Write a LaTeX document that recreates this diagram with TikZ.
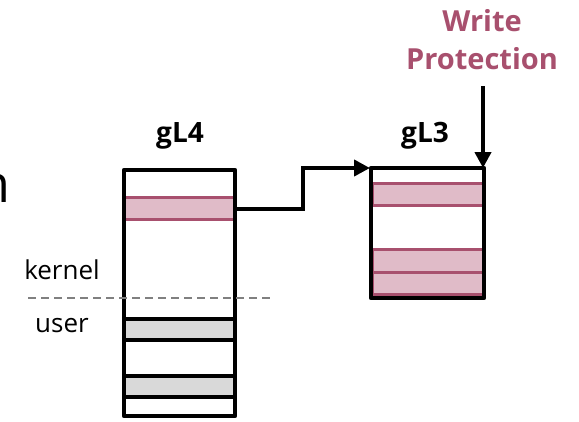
\documentclass[tikz,border=0pt]{standalone}
\usepackage{fontspec}
\setmainfont{Open Sans}
\usetikzlibrary{arrows.meta}
\definecolor{mauve}{HTML}{A8506E}
\definecolor{mauvefill}{HTML}{E0BBC8}
\definecolor{grayfill}{HTML}{D9D9D9}
\tikzset{
  frame/.style={draw=black, line width=4.5pt, line join=round},
  protband/.style={fill=mauvefill, draw=mauve, line width=3pt},
  userband/.style={fill=grayfill, draw=black, line width=4.5pt},
  lbl/.style={font=\fontsize{26}{30}\selectfont, inner sep=0pt},
  title/.style={font=\fontsize{28}{32}\selectfont\bfseries, inner sep=0pt},
  link/.style={line width=4.5pt, -{Triangle[length=16pt,width=16pt]}},
}
\begin{document}
\begin{tikzpicture}[x=1pt,y=-1pt]
\useasboundingbox (0,0) rectangle (579,421);

% cut-off heading letter at the left edge
\node[font=\fontsize{52}{58}\selectfont, anchor=east, inner sep=0pt] (cut) at (11,188) {n};

% gL4 table
\fill[white] (124,170) rectangle (235,416);
\draw[protband] (124,197) rectangle (235,219);
\draw[userband] (124,319) rectangle (235,340);
\draw[userband] (124,376) rectangle (235,397);
\node[frame, minimum width=111pt, minimum height=246pt, inner sep=0pt] (gl4) at (179.5,293) {};
\coordinate (gl4entry) at (235,209);
\node[title] (gl4t) at (180,136) {gL4};

% kernel / user split
\draw[gray, line width=2pt, dash pattern=on 8pt off 5pt] (28,298) -- (272,298);
\node[lbl] (kern) at (62,270) {kernel};
\node[lbl] (usr) at (62,326) {user};

% gL3 table
\draw[protband] (372,183) rectangle (483,205);
\draw[protband] (372,249) rectangle (483,272);
\draw[protband] (372,272) rectangle (483,294);
\node[frame, minimum width=113pt, minimum height=130pt, inner sep=0pt] (gl3) at (427.5,233) {};
\coordinate (gl3in) at (370,168);
\coordinate (gl3top) at (483,168);
\node[title] (gl3t) at (425,136) {gL3};

% pointer from gL4 entry to gL3
\draw[link] (gl4entry) -- (303,209) -- (303,168) -- (gl3in);

% write protection marker
\node[title, text=mauve, align=center, font=\fontsize{29}{38}\selectfont\bfseries] (wp) at (482,40) {Write\\Protection};
\coordinate (wpstart) at (483,86);
\draw[link] (wpstart) -- (gl3top);
\end{tikzpicture}
\end{document}
